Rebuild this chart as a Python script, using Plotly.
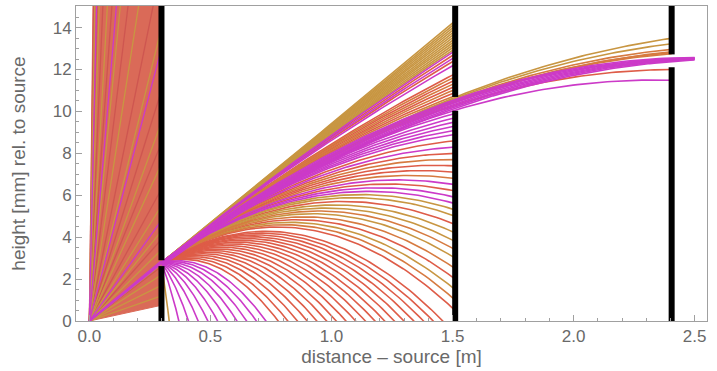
import numpy as np
import plotly.graph_objects as go

# ---------------- data ----------------
COL = {"M": "rgb(204,58,200)", "R": "rgb(222,92,72)", "O": "rgb(214,122,64)",
       "G": "rgb(200,150,66)", "D": "rgb(206,86,80)"}

WALL_X = [0.298, 1.511, 2.405]
WALL_GAPS = [(2.62, 2.90), (10.03, 10.69), (12.11, 12.72)]
GAP1_H = 2.78          # height of the first slit [mm]
X_END = 2.5            # end of beam after last slit [m]

# rays from the source stopped by the first wall (fan)
fan_low_h = 0.75
fan_high_h = 300.0
fan_streak_h = [1.2, 1.7, 2.2, 3.4, 4.3, 5.5, 7.5, 9.5, 14, 22, 35, 60, 110, 200,
                4.8, 13, 40, 150,
                2.6, 3.9, 6.3, 8.5, 11, 17, 28, 48, 80, 140, 250]
fan_streak_c = ["G"] * 14 + ["M"] * 4 + ["D"] * 11

# rays from source into the first slit
beam_h = [2.70, 2.74, 2.78, 2.82, 2.86]
beam_c = ["G", "M", "M", "M", "M"]

# trajectories through slit 1 that hit the floor (x where height = 0)
floor_x = [0.33,
           0.37, 0.41, 0.45, 0.49, 0.53, 0.57, 0.61, 0.65, 0.69, 0.73,
           0.78, 0.82, 0.86, 0.90, 0.94, 0.98, 1.02, 1.06, 1.10, 1.14,
           1.18, 1.22, 1.26, 1.30, 1.34, 1.38, 1.42, 1.46]
floor_c = ["G"] + ["M"] * 10 + ["R"] * 18

# trajectories through slit 1 stopped at the second wall (height at wall 2)
wall2_h = [0.5, 1.0, 1.5, 2.0, 2.5, 3.0, 3.4, 3.8, 4.2, 4.6, 5.0, 5.3, 5.6, 5.9,
           6.2, 6.5, 6.8, 7.1, 7.4, 7.7, 8.0, 8.3, 8.6, 8.9, 9.1, 9.3, 9.5, 9.7, 9.9,
           10.75, 10.9, 11.05, 11.2, 11.35, 11.5, 11.65, 11.8,
           12.25, 12.45, 12.6, 12.75, 12.9,
           13.0, 13.12, 13.24, 13.36, 13.48, 13.6, 13.72, 13.84, 13.96, 14.08, 14.2, 14.32]
wall2_c = ["R", "O", "G", "R", "O", "G", "O", "G", "G", "R", "G", "G", "M", "M",
           "R", "M", "O", "R", "R", "O", "R", "M", "R", "M", "M", "M", "M", "M", "M",
           "O", "R", "O", "R", "O", "R", "O", "R",
           "M", "R", "M", "R", "M"] + ["G"] * 12

# trajectories through slit 2: height at wall 2 and at wall 3
pass_h15 = [10.68, 10.62, 10.55, 10.50, 10.47, 10.44, 10.30, 10.06,
            10.15, 10.22, 10.29, 10.36, 10.43, 10.50, 10.57]
pass_h24 = [13.49, 13.23, 12.96, 12.80, 12.75, 12.85, 12.00, 11.49,
            12.38, 12.42, 12.45, 12.47, 12.50, 12.52, 12.55]
pass_c = ["G", "G", "O", "O", "O", "O", "R", "M",
          "M", "M", "M", "M", "M", "M", "M"]

# ---------------- build figure ----------------
fig = go.Figure()


def add_group(xs_list, ys_list, color, width=1.6):
    X, Y = [], []
    for xs, ys in zip(xs_list, ys_list):
        X += list(xs) + [None]
        Y += list(ys) + [None]
    fig.add_trace(go.Scatter(x=X, y=Y, mode="lines", hoverinfo="skip",
                             line=dict(color=color, width=width)))


# fan polygon
fig.add_trace(go.Scatter(x=[0, WALL_X[0], WALL_X[0], 0],
                         y=[0, fan_low_h, fan_high_h, 0],
                         mode="lines", fill="toself", fillcolor="rgb(218,106,88)",
                         line=dict(color="rgb(218,106,88)", width=1), hoverinfo="skip"))
for key in ["D", "G", "M"]:
    xs, ys = [], []
    for h, c in zip(fan_streak_h, fan_streak_c):
        if c == key:
            xs.append([0, WALL_X[0]])
            ys.append([0, h])
    add_group(xs, ys, COL[key], 1.3)


def curve(a, b, x0, x1, n=80):
    x = np.linspace(x0, x1, n)
    return x, a * x - b * x * x


x1w = WALL_X[0]
# floor hitters
groups = {}
for xf, c in zip(floor_x, floor_c):
    b = GAP1_H / (x1w * xf - x1w * x1w)
    a = b * xf
    groups.setdefault(c, []).append(curve(a, b, x1w, xf + 0.01))
# wall-2 hitters
groups2 = {}
for h, c in zip(wall2_h, wall2_c):
    A = np.array([[x1w, -x1w ** 2], [WALL_X[1], -WALL_X[1] ** 2]])
    a, b = np.linalg.solve(A, [GAP1_H, h])
    groups2.setdefault(c, []).append(curve(a, b, x1w, WALL_X[1]))
# slit-2 passers
groups3 = {}
for h, k, c in zip(pass_h15, pass_h24, pass_c):
    A = np.array([[WALL_X[1], -WALL_X[1] ** 2], [WALL_X[2], -WALL_X[2] ** 2]])
    a, b = np.linalg.solve(A, [h, k])
    lo, hi = WALL_GAPS[2]
    xe = X_END if lo <= k <= hi else WALL_X[2]
    groups3.setdefault(c, []).append(curve(a, b, x1w, xe, 120))

for key in ["R", "G", "O"]:
    for g in (groups, groups2, groups3):
        if key in g:
            add_group([p[0] for p in g[key]], [p[1] for p in g[key]], COL[key])
for g in (groups, groups2, groups3):
    if "M" in g:
        add_group([p[0] for p in g["M"]], [p[1] for p in g["M"]], COL["M"])

# beam into slit 1
for key in ["G", "M"]:
    xs, ys = [], []
    for h, c in zip(beam_h, beam_c):
        if c == key:
            xs.append([0, x1w])
            ys.append([0, h])
    add_group(xs, ys, COL[key], 1.8)

# walls
WX, WY = [], []
for wx, (lo, hi) in zip(WALL_X, WALL_GAPS):
    WX += [wx, wx, None, wx, wx, None]
    WY += [-1, lo, None, hi, 16, None]
fig.add_trace(go.Scatter(x=WX, y=WY, mode="lines", hoverinfo="skip",
                         line=dict(color="black", width=6)))

axcol = "rgb(160,160,160)"
fcol = "rgb(105,105,105)"
font = "Liberation Sans, Arial, sans-serif"
fig.update_layout(
    width=717, height=371, showlegend=False,
    margin=dict(l=76, r=10, t=6, b=50),
    plot_bgcolor="white", paper_bgcolor="white",
    font=dict(family=font, size=17, color=fcol),
    xaxis=dict(range=[-0.055, 2.551], tickvals=[0, 0.5, 1.0, 1.5, 2.0, 2.5],
               tickformat=".1f", ticks="inside", ticklen=6, tickcolor=axcol,
               showline=True, linecolor=axcol, linewidth=1, mirror=True,
               showgrid=False, zeroline=False,
               minor=dict(ticks="inside", ticklen=3, dtick=0.1, tickcolor=axcol),
               tickfont=dict(size=17, color=fcol),
               title=dict(text="distance – source [m]", font=dict(size=19, color=fcol), standoff=2)),
    yaxis=dict(range=[0, 15.03], tickvals=[0, 2, 4, 6, 8, 10, 12, 14],
               ticks="inside", ticklen=6, tickcolor=axcol,
               showline=True, linecolor=axcol, linewidth=1, mirror=True,
               showgrid=False, zeroline=False,
               minor=dict(ticks="inside", ticklen=3, dtick=0.5, tickcolor=axcol),
               tickfont=dict(size=17, color=fcol),
               title=dict(text="height [mm] rel. to source", font=dict(size=19, color=fcol), standoff=22)),
)
fig.write_html("out.html")
